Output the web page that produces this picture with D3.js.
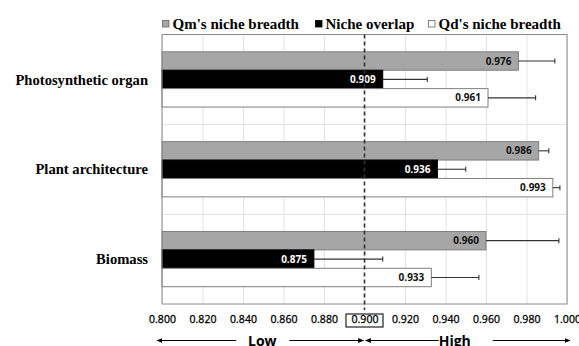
<!DOCTYPE html>
<html><head><meta charset="utf-8">
<script src="https://cdn.jsdelivr.net/npm/d3@7"></script>
<style>body{margin:0;background:#fff}svg{display:block}</style>
</head><body>
<script>
const categories = ["Photosynthetic organ", "Plant architecture", "Biomass"];
const seriesNames = ["Qm's niche breadth", "Niche overlap", "Qd's niche breadth"];
const qmValues = [0.976, 0.986, 0.960];
const qmErrors = [0.018, 0.005, 0.036];
const overlapValues = [0.909, 0.936, 0.875];
const overlapErrors = [0.022, 0.014, 0.034];
const qdValues = [0.961, 0.993, 0.933];
const qdErrors = [0.0235, 0.0035, 0.0235];
const xTicks = [0.80, 0.82, 0.84, 0.86, 0.88, 0.90, 0.92, 0.94, 0.96, 0.98, 1.00];
const threshold = 0.90;
const lowLabel = "Low", highLabel = "High";

const W = 579, H = 346;
const M = {left: 162, right: 12, top: 34.5, bottom: 42};
const fills = ["#a6a6a6", "#000000", "#ffffff"];
const labelColors = ["#111", "#fff", "#111"];
const sansFont = "'Open Sans', 'Noto Sans', sans-serif";
const serifFont = "'Liberation Serif', 'Times New Roman', serif";

const svg = d3.select("body").append("svg").attr("width", W).attr("height", H);
const x = d3.scaleLinear().domain([0.8, 1.0]).range([M.left, W - M.right]);
const y = d3.scaleBand().domain(categories).range([M.top, H - M.bottom]).padding(0);
const yi = d3.scaleBand().domain(seriesNames).range([0, y.bandwidth()]).paddingInner(0).paddingOuter(0.94);

const vals = [qmValues, overlapValues, qdValues];
const errs = [qmErrors, overlapErrors, qdErrors];
const data = [];
categories.forEach((c, i) => seriesNames.forEach((s, j) => data.push({c, s, j, v: vals[j][i], e: errs[j][i]})));

const plotTop = M.top, plotBot = H - M.bottom;

// vertical gridlines
svg.append("g").attr("transform", `translate(0,${plotBot})`)
  .call(d3.axisBottom(x).tickValues(xTicks).tickSize(-(plotBot - plotTop)).tickFormat(""))
  .call(g => g.select(".domain").remove())
  .call(g => g.selectAll("line").attr("stroke", "#e2e2e2"));
// horizontal category separators
svg.append("g").selectAll("line").data(categories.slice(1)).join("line")
  .attr("x1", x(0.8)).attr("x2", x(1.0))
  .attr("y1", d => Math.round(y(d)) + 0.5).attr("y2", d => Math.round(y(d)) + 0.5)
  .attr("stroke", "#e2e2e2");

// bars
svg.append("g").selectAll("rect").data(data).join("rect")
  .attr("x", x(0.8))
  .attr("y", d => y(d.c) + yi(d.s))
  .attr("width", d => x(d.v) - x(0.8))
  .attr("height", yi.bandwidth())
  .attr("fill", d => fills[d.j])
  .attr("stroke", d => d.j === 1 ? "#000" : "#7f7f7f")
  .attr("stroke-width", 1);

// error bars
const eb = svg.append("g").attr("stroke", "#333").attr("stroke-width", 1.1);
data.forEach(d => {
  const cy = y(d.c) + yi(d.s) + yi.bandwidth() / 2;
  eb.append("line").attr("x1", x(d.v)).attr("x2", x(d.v + d.e)).attr("y1", cy).attr("y2", cy);
  eb.append("line").attr("x1", x(d.v + d.e)).attr("x2", x(d.v + d.e)).attr("y1", cy - 2.5).attr("y2", cy + 2.5);
});

// value labels
svg.append("g").selectAll("text").data(data).join("text")
  .attr("x", d => x(d.v) - 7)
  .attr("y", d => y(d.c) + yi(d.s) + yi.bandwidth() / 2)
  .attr("dy", "0.35em")
  .attr("text-anchor", "end")
  .attr("font-family", sansFont)
  .attr("font-weight", "bold")
  .attr("font-size", 10)
  .attr("fill", d => labelColors[d.j])
  .text(d => d.v.toFixed(3));

// frame
svg.append("rect").attr("x", x(0.8)).attr("y", plotTop)
  .attr("width", x(1.0) - x(0.8)).attr("height", plotBot - plotTop)
  .attr("fill", "none").attr("stroke", "#8c8c8c").attr("stroke-width", 1);

// threshold dashed line
svg.append("line").attr("x1", x(threshold)).attr("x2", x(threshold))
  .attr("y1", plotTop).attr("y2", plotBot + 6)
  .attr("stroke", "#333").attr("stroke-width", 1.6).attr("stroke-dasharray", "4,3");

// x axis labels
const xa = svg.append("g").attr("transform", `translate(0,${plotBot})`)
  .call(d3.axisBottom(x).tickValues(xTicks).tickSize(0).tickPadding(12).tickFormat(d3.format(".3f")));
xa.select(".domain").remove();
xa.selectAll("text").attr("font-family", sansFont).attr("font-size", 10.5)
  .attr("fill", "#000").attr("stroke", "#000").attr("stroke-width", 0.3);
// box around threshold label
svg.append("rect").attr("x", x(threshold) - 18.5).attr("y", 314).attr("width", 37).attr("height", 13)
  .attr("fill", "none").attr("stroke", "#222").attr("stroke-width", 1.2);

// category labels
svg.append("g").selectAll("text").data(categories).join("text")
  .attr("x", 148).attr("y", d => y(d) + y.bandwidth() / 2)
  .attr("dy", "0.35em").attr("text-anchor", "end")
  .attr("font-family", serifFont)
  .attr("font-weight", "bold").attr("font-size", 14.6).attr("fill", "#000")
  .text(d => d);

// legend
const legendX = [162.5, 315.5, 428.5];
const lg = svg.append("g");
seriesNames.forEach((s, j) => {
  lg.append("rect").attr("x", legendX[j]).attr("y", 20.5).attr("width", 6.5).attr("height", 6.5)
    .attr("fill", fills[j]).attr("stroke", j === 1 ? "#000" : "#666").attr("stroke-width", 0.8);
  lg.append("text").attr("x", legendX[j] + 10).attr("y", 29)
    .attr("font-family", serifFont)
    .attr("font-weight", "bold").attr("font-size", 15).attr("fill", "#000").text(s);
});

// bottom arrows
const defs = svg.append("defs");
defs.append("marker").attr("id", "ah").attr("viewBox", "0 0 10 10").attr("refX", 9).attr("refY", 5)
  .attr("markerWidth", 5).attr("markerHeight", 5).attr("orient", "auto-start-reverse")
  .append("path").attr("d", "M0,1 L10,5 L0,9 z").attr("fill", "#000");
const ay = 340.5;
const arrows = svg.append("g").attr("stroke", "#000").attr("stroke-width", 1.2);
const midLow = (x(0.8) + x(threshold)) / 2, midHigh = (x(threshold) + x(1.0)) / 2;
arrows.append("line").attr("x1", x(0.8) - 5).attr("x2", midLow - 27).attr("y1", ay).attr("y2", ay).attr("marker-start", "url(#ah)");
arrows.append("line").attr("x1", midLow + 26).attr("x2", x(threshold) - 1).attr("y1", ay).attr("y2", ay).attr("marker-end", "url(#ah)");
arrows.append("line").attr("x1", x(threshold) + 1).attr("x2", midHigh - 27).attr("y1", ay).attr("y2", ay).attr("marker-start", "url(#ah)");
arrows.append("line").attr("x1", midHigh + 27).attr("x2", x(1.0) + 3).attr("y1", ay).attr("y2", ay).attr("marker-end", "url(#ah)");
svg.append("text").attr("x", midLow - 1).attr("y", 345.5).attr("text-anchor", "middle")
  .attr("font-family", sansFont).attr("font-weight", "bold").attr("font-size", 14).text(lowLabel);
svg.append("text").attr("x", midHigh - 11).attr("y", 345.5).attr("text-anchor", "middle")
  .attr("font-family", sansFont).attr("font-weight", "bold").attr("font-size", 14).text(highLabel);
</script>
</body></html>
